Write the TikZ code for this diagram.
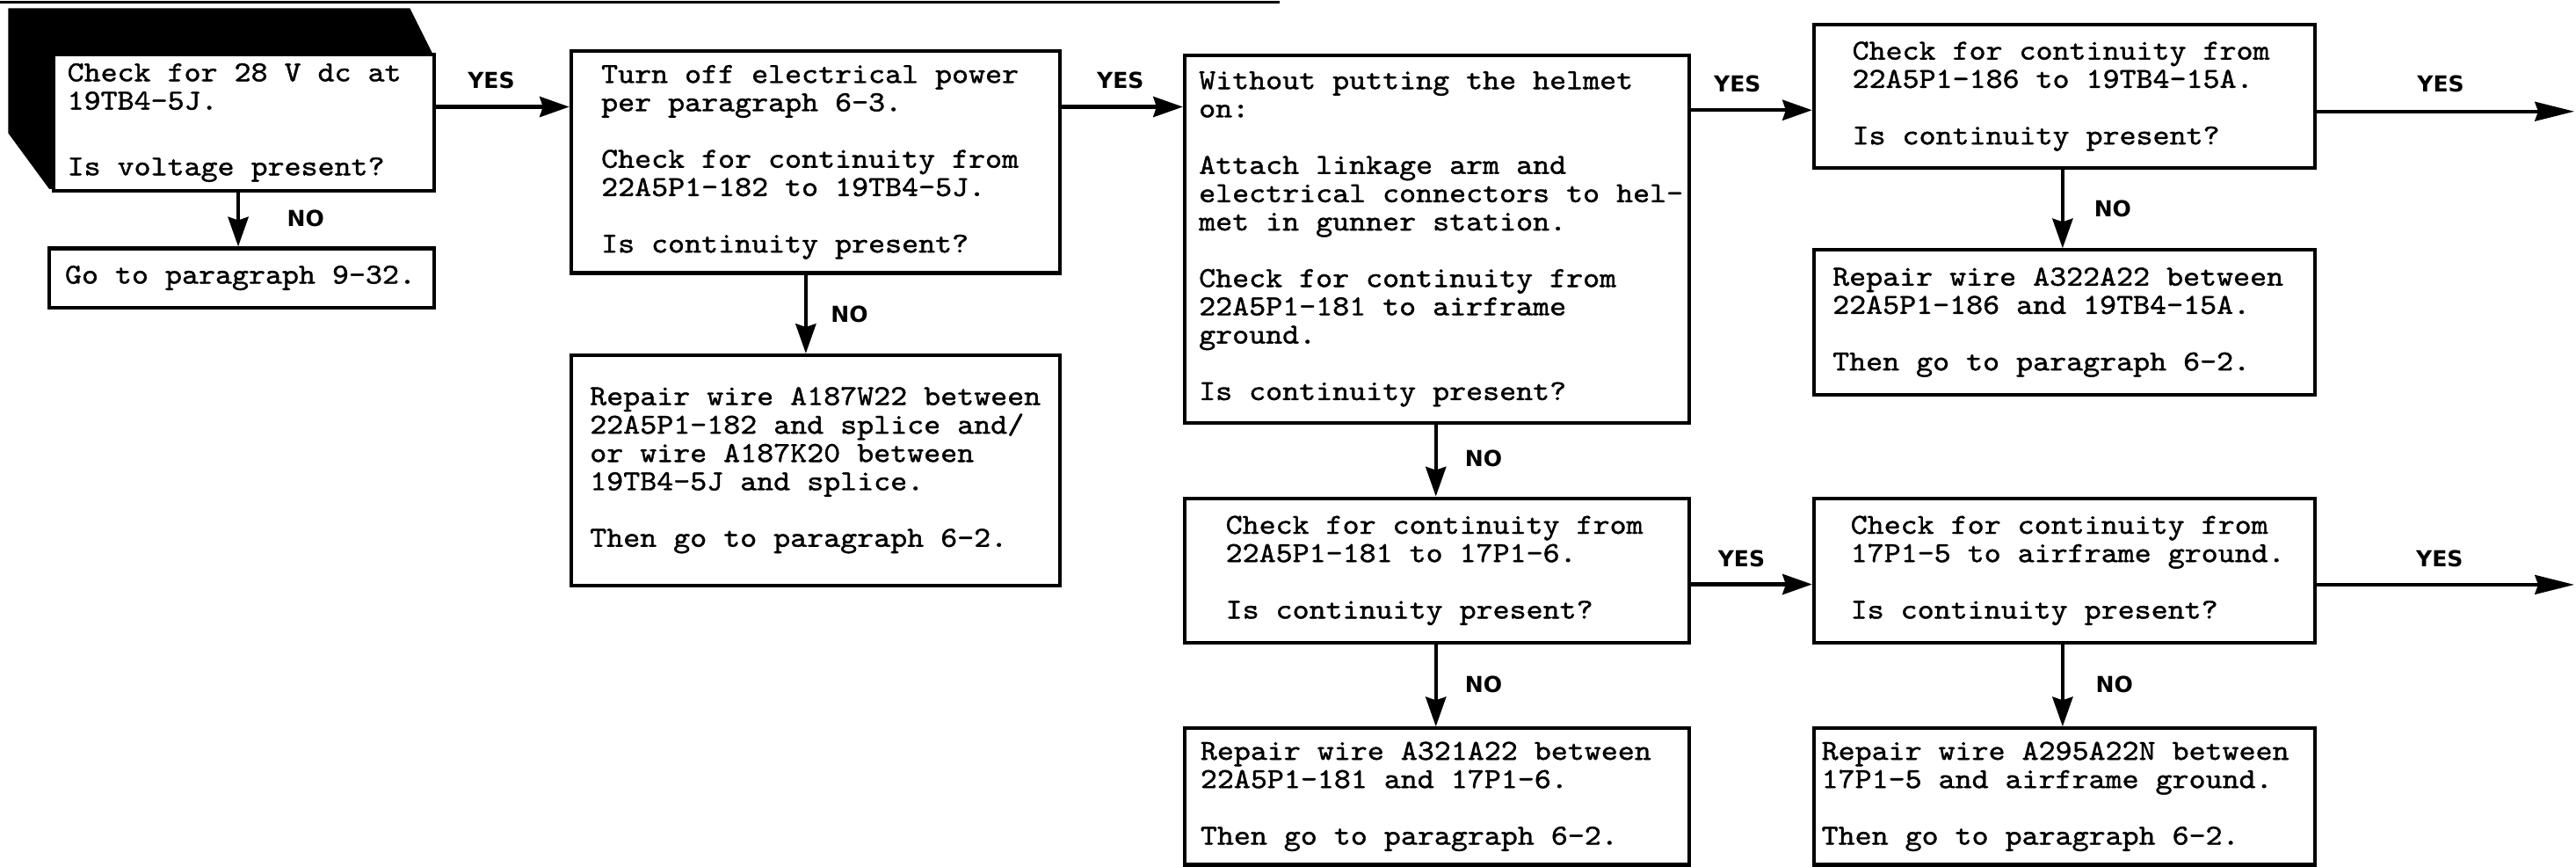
\documentclass[tikz,border=0pt]{standalone}
\usepackage{fontspec}
\usetikzlibrary{arrows.meta}
\newfontfamily\tw{lmmono10-regular.otf}[FakeStretch=1.1,FakeBold=1.2]
\newfontfamily\lblf{DejaVu Sans}
\newcommand\bxtxt[2]{\makebox[#1][l]{\begin{tabular}{@{}l@{}}#2\end{tabular}}}
\tikzset{
  box/.style={draw, line width=1.1pt, fill=white, anchor=north west, inner ysep=0pt,
    font=\tw\fontsize{8.8}{8.6}\selectfont},
  lbl/.style={font=\lblf\bfseries\fontsize{6.7}{7}\selectfont, inner sep=0pt},
  arr/.style={line width=1.1pt, -{Stealth[length=9pt,width=6.2pt,inset=1pt]}},
  arrl/.style={line width=1.1pt, -{Stealth[length=12pt,width=5.8pt,inset=1pt]}},
}
\begin{document}
\begin{tikzpicture}[x=0.5pt,y=-0.5pt]
\useasboundingbox (0,0) rectangle (1568,527);
% top rule
\draw[line width=0.9pt] (0,1.2) -- (779,1.2);
% black tab behind the first box
\fill (5,5) -- (249.5,5) -- (263,32) -- (263,115) -- (30,115) -- (5,81) -- cycle;

% boxes
\node[box, minimum width=115.75pt, minimum height=41.5pt, inner xsep=4.2pt] (b1) at (31.5,32)
  {\bxtxt{107.35pt}{Check for 28 V dc at\\19TB4-5J.\\[11.4pt]Is voltage present?}};
\node[box, minimum width=117pt, minimum height=18pt, inner xsep=4.75pt] (goto) at (29,150)
  {\bxtxt{107.5pt}{Go to paragraph 9-32.}};
\node[box, minimum width=148.75pt, minimum height=67.5pt, inner xsep=9.2pt] (b2) at (346.5,30)
  {\bxtxt{130.35pt}{Turn off electrical power\\per paragraph 6-3.\\[8.6pt]Check for continuity from\\22A5P1-182 to 19TB4-5J.\\[8.6pt]Is continuity present?}};
\node[box, minimum width=148.75pt, minimum height=70pt, inner xsep=5.75pt] (rep1) at (346.5,215)
  {\bxtxt{137.25pt}{Repair wire A187W22 between\\22A5P1-182 and splice and/\\or wire A187K20 between\\19TB4-5J and splice.\\[8.6pt]Then go to paragraph 6-2.}};
\node[box, minimum width=153.5pt, minimum height=111.75pt, inner xsep=4.35pt] (b3) at (720,32.5)
  {\bxtxt{144.8pt}{Without putting the helmet\\on:\\[8.6pt]Attach linkage arm and\\electrical connectors to hel-\\met in gunner station.\\[8.6pt]Check for continuity from\\22A5P1-181 to airframe\\ground.\\[8.6pt]Is continuity present?}};
\node[box, minimum width=152.5pt, minimum height=43.5pt, inner xsep=11.7pt] (b4) at (1103,14)
  {\bxtxt{129.1pt}{Check for continuity from\\22A5P1-186 to 19TB4-15A.\\[8.6pt]Is continuity present?}};
\node[box, minimum width=152.5pt, minimum height=44pt, inner xsep=5.7pt] (rep4) at (1103,151)
  {\bxtxt{141.1pt}{Repair wire A322A22 between\\22A5P1-186 and 19TB4-15A.\\[8.6pt]Then go to paragraph 6-2.}};
\node[box, minimum width=153.5pt, minimum height=44pt, inner xsep=12.5pt] (b5) at (720,302)
  {\bxtxt{128.5pt}{Check for continuity from\\22A5P1-181 to 17P1-6.\\[8.6pt]Is continuity present?}};
\node[box, minimum width=153.5pt, minimum height=41.5pt, inner xsep=4.8pt] (rep5) at (720,442)
  {\bxtxt{143.9pt}{Repair wire A321A22 between\\22A5P1-181 and 17P1-6.\\[8.6pt]Then go to paragraph 6-2.}};
\node[box, minimum width=152.5pt, minimum height=44pt, inner xsep=11.2pt] (b6) at (1103,302)
  {\bxtxt{130.1pt}{Check for continuity from\\17P1-5 to airframe ground.\\[8.6pt]Is continuity present?}};
\node[box, minimum width=152.5pt, minimum height=41.5pt, inner xsep=2.35pt] (rep6) at (1103,442)
  {\bxtxt{147.8pt}{Repair wire A295A22N between\\17P1-5 and airframe ground.\\[8.6pt]Then go to paragraph 6-2.}};

% labels
\node[lbl] (yes1) at (299,49) {YES};
\node[lbl] (yes2) at (682,49) {YES};
\node[lbl] (yes3) at (1057.5,51) {YES};
\node[lbl] (yes4) at (1485.6,50.8) {YES};
\node[lbl] (yes5) at (1060,340) {YES};
\node[lbl] (yes6) at (1485,340) {YES};
\node[lbl] (no1) at (186,133) {NO};
\node[lbl] (no2) at (517,191) {NO};
\node[lbl] (no3) at (903,279) {NO};
\node[lbl] (no4) at (1286,127) {NO};
\node[lbl] (no5) at (903,416.5) {NO};
\node[lbl] (no6) at (1287,416.5) {NO};

% reference coordinates for connector levels
\coordinate (h12) at (0,65);
\coordinate (h23) at (0,65);
\coordinate (h34) at (0,67);
\coordinate (h56) at (0,355.5);
\coordinate (e4) at (1567,67.8);
\coordinate (e6) at (1567,355.7);
\coordinate (v1) at (145,0);
\coordinate (v2) at (490.5,0);
\coordinate (v3) at (874,0);
\coordinate (v4) at (1255.5,0);

% YES connectors
\draw[arr] (b1.east |- h12) -- (b2.west |- h12);
\draw[arr] (b2.east |- h23) -- (b3.west |- h23);
\draw[arr] (b3.east |- h34) -- (b4.west |- h34);
\draw[arrl] (b4.east |- e4) -- (e4);
\draw[arr] (b5.east |- h56) -- (b6.west |- h56);
\draw[arrl] (b6.east |- e6) -- (e6);
% NO connectors
\draw[arr] (b1.south -| v1) -- (goto.north -| v1);
\draw[arr] (b2.south -| v2) -- (rep1.north -| v2);
\draw[arr] (b3.south -| v3) -- (b5.north -| v3);
\draw[arr] (b4.south -| v4) -- (rep4.north -| v4);
\draw[arr] (b5.south -| v3) -- (rep5.north -| v3);
\draw[arr] (b6.south -| v4) -- (rep6.north -| v4);
\end{tikzpicture}
\end{document}
